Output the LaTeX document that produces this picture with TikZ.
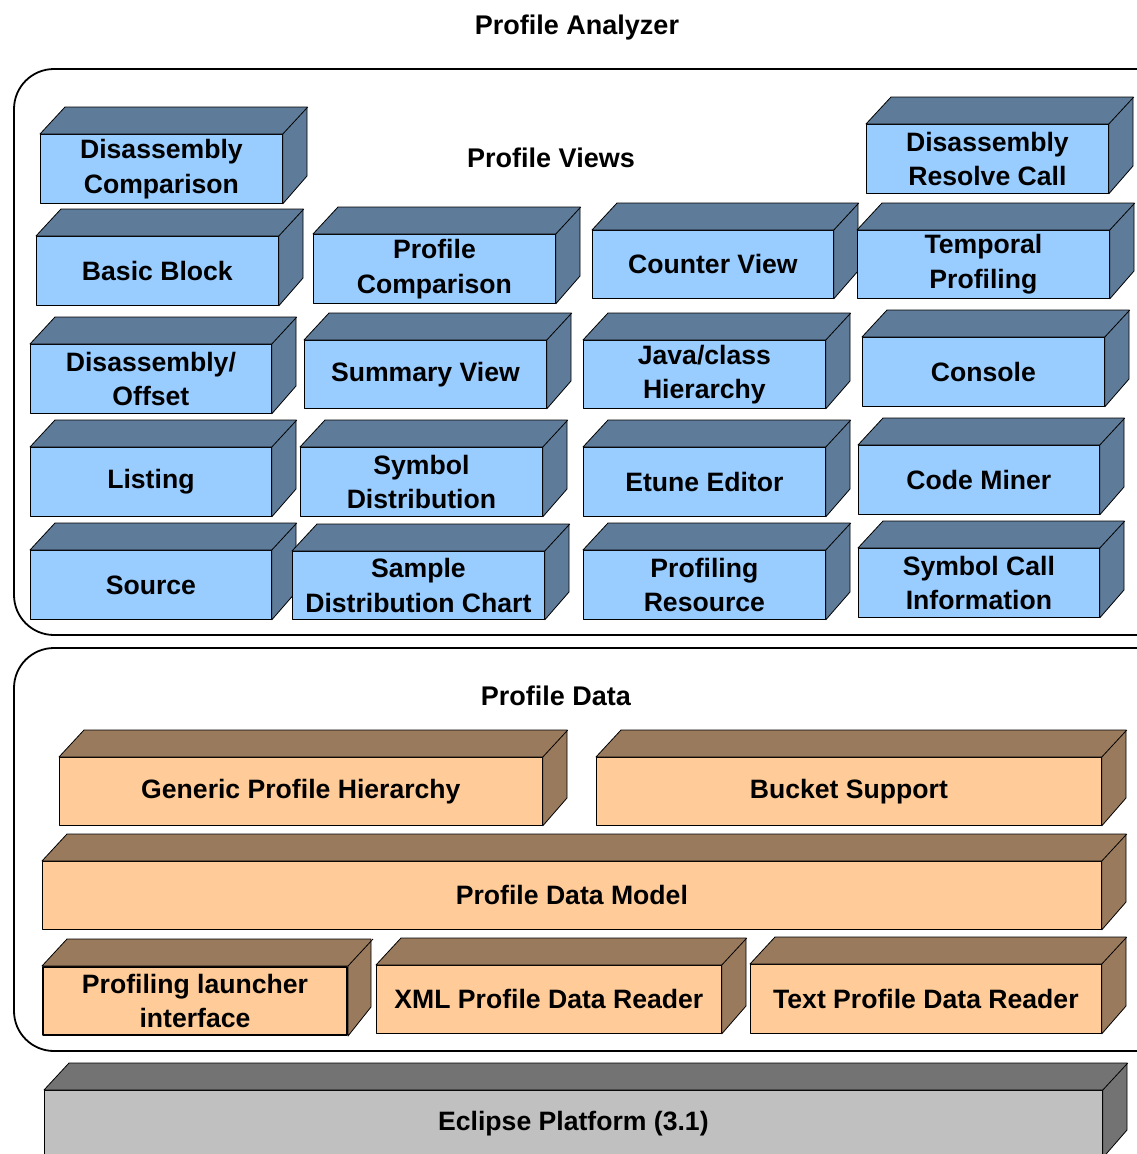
\documentclass[tikz,border=0pt]{standalone}
\usepackage{fontspec}
\setmainfont{Liberation Sans}
\definecolor{bfront}{HTML}{99CCFF}
\definecolor{bside}{HTML}{5E7B99}
\definecolor{ofront}{HTML}{FFCC99}
\definecolor{oside}{HTML}{997A5C}
\definecolor{gfront}{HTML}{C0C0C0}
\definecolor{gside}{HTML}{737373}
\tikzset{
 face/.style={draw=black, line width=0.8pt, line join=round},
 lbl/.style={face, align=center, inner sep=0pt, font=\fontsize{26.6}{34.5}\selectfont\bfseries},
 title/.style={font=\fontsize{27}{32}\selectfont\bfseries, inner sep=0pt},
 group/.style={draw=black, line width=1.8pt, rounded corners=40pt},
}
\newcommand\cube[8]{%
 \node[lbl, fill=#6, minimum width=#4pt, minimum height=#5pt, anchor=north west] (#1) at (#2,#3) {#8};
 \filldraw[face, fill=#7] (#1.north west) -- ++(25,-27) -- ++(#4,0) -- ++(0,#5) -- (#1.south east) -- (#1.north east) -- cycle;
 \draw[face] (#1.north east) -- ++(25,-27);
}
\begin{document}
\begin{tikzpicture}[x=1pt,y=-1pt]
\path[use as bounding box, clip] (0,0) rectangle (1137,1154);
\fill[white] (0,0) rectangle (1137,1154);
\node[title] (analyzer) at (577,28) {Profile Analyzer};
% Profile Views group
\draw[group] (14,69) rectangle (1200,635);
\node[title] (views) at (551,158) {Profile Views};
\cube{dcomp}{40}{134}{242}{69}{bfront}{bside}{Disassembly\\Comparison}
\cube{dresolve}{866}{124}{242}{69}{bfront}{bside}{Disassembly\\Resolve Call}
\cube{basic}{36}{236}{242}{69}{bfront}{bside}{Basic Block}
\cube{pcomp}{313}{234}{242}{69}{bfront}{bside}{Profile\\Comparison}
\cube{counter}{592}{230}{241}{68}{bfront}{bside}{Counter View}
\cube{temporal}{857}{230}{252}{68}{bfront}{bside}{Temporal\\Profiling}
\cube{doffset}{30}{344}{241}{69}{bfront}{bside}{Disassembly/\\Offset}
\cube{summary}{304}{340}{242}{68}{bfront}{bside}{Summary View}
\cube{java}{583}{340}{242}{68}{bfront}{bside}{Java/class\\Hierarchy}
\cube{console}{862}{337}{242}{69}{bfront}{bside}{Console}
\cube{listing}{30}{447}{241}{69}{bfront}{bside}{Listing}
\cube{symdist}{300}{447}{242}{69}{bfront}{bside}{Symbol\\Distribution}
\cube{etune}{583}{447}{242}{69}{bfront}{bside}{Etune Editor}
\cube{codeminer}{858}{445}{241}{69}{bfront}{bside}{Code Miner}
\cube{source}{30}{550}{241}{69}{bfront}{bside}{Source}
\cube{sample}{292}{551}{252}{68}{bfront}{bside}{Sample\\Distribution Chart}
\cube{profres}{583}{550}{242}{69}{bfront}{bside}{Profiling\\Resource}
\cube{symcall}{858}{548}{241}{69}{bfront}{bside}{Symbol Call\\Information}
% Profile Data group
\draw[group] (14,648) rectangle (1200,1051);
\node[title] (data) at (556,696) {Profile Data};
\cube{generic}{59}{757}{483}{68}{ofront}{oside}{Generic Profile Hierarchy}
\cube{bucket}{596}{757}{505}{68}{ofront}{oside}{Bucket Support}
\cube{pdm}{42}{861}{1059}{68}{ofront}{oside}{Profile Data Model}
\cube{launcher}{42}{966}{304}{68}{ofront, line width=2pt}{oside}{Profiling launcher\\interface}
\cube{xml}{376}{965}{345}{68}{ofront}{oside}{XML Profile Data Reader}
\cube{textr}{750}{964}{351}{69}{ofront}{oside}{Text Profile Data Reader}
% Platform
\cube{eclipse}{44}{1090}{1058}{67}{gfront}{gside}{Eclipse Platform (3.1)}
\end{tikzpicture}
\end{document}
